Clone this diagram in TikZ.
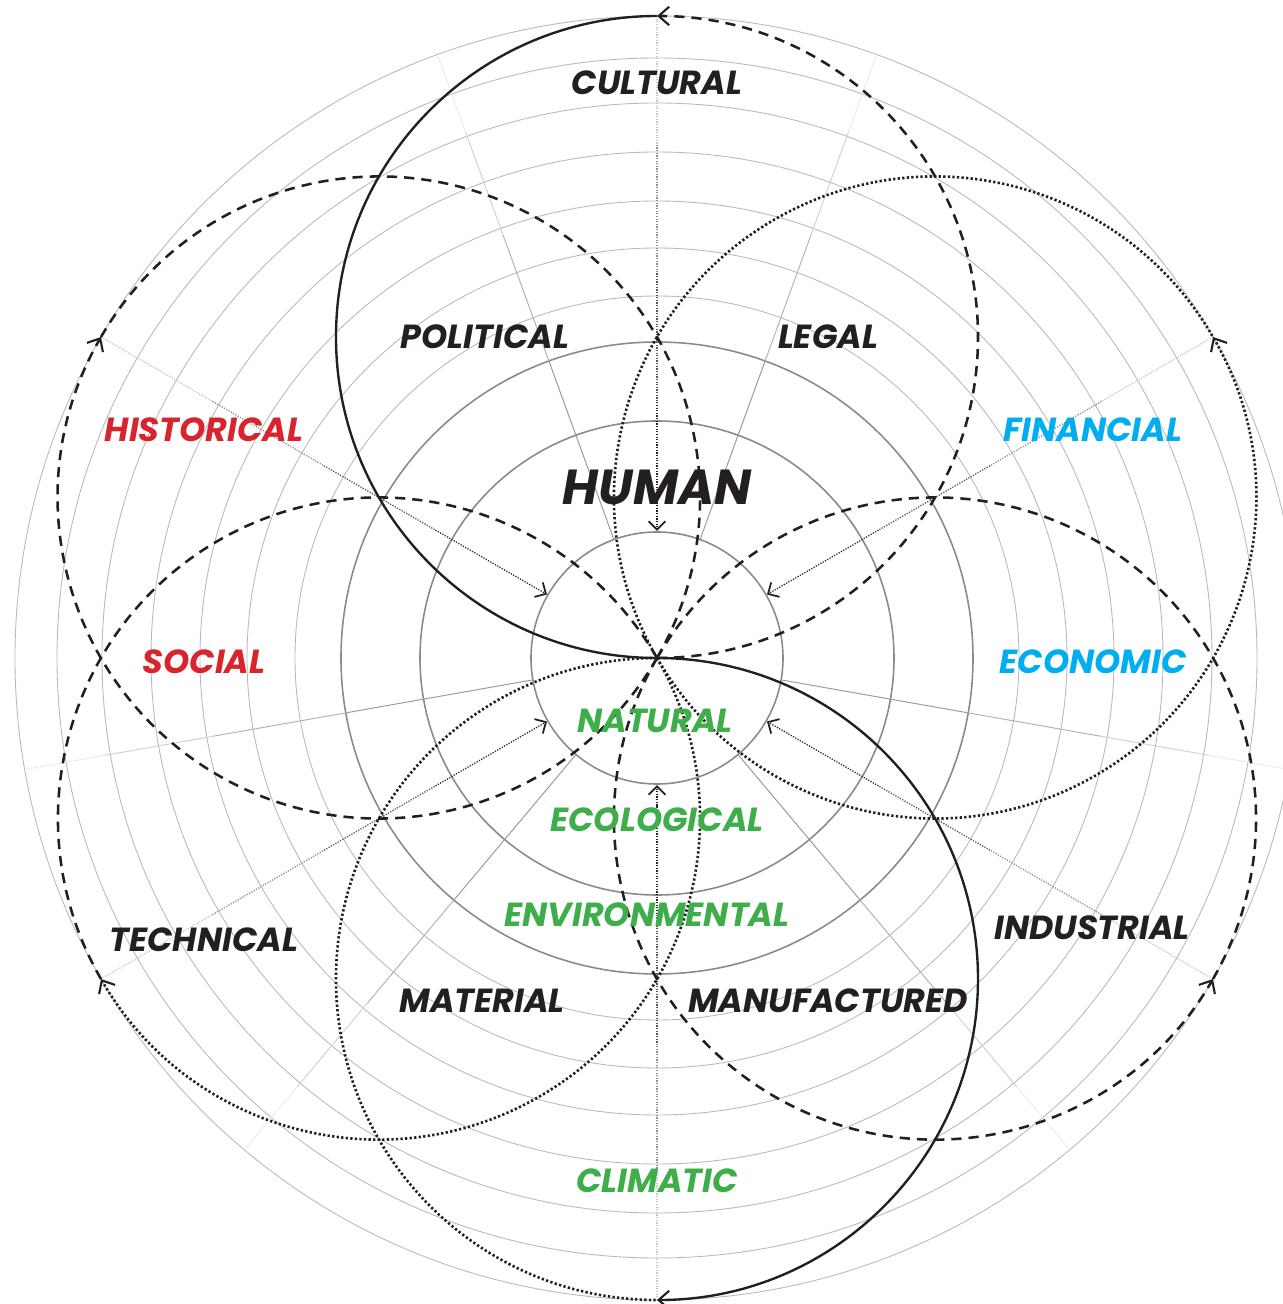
\documentclass[tikz,border=0pt]{standalone}
\usepackage{fontspec}
\newfontfamily\petalfont{Poppins}
\usetikzlibrary{arrows.meta,calc}
\definecolor{PetalInk}{HTML}{231F20}
\definecolor{PetalRed}{HTML}{D7242D}
\definecolor{PetalBlue}{HTML}{00AEEF}
\definecolor{PetalGreen}{HTML}{3DAE49}
\definecolor{RingGray}{HTML}{8A8A8A}
\definecolor{RingLight}{HTML}{B9B9B9}
\tikzset{
  ring major/.style={draw=RingGray, line width=.9pt},
  ring minor/.style={draw=RingLight, line width=.5pt},
  spoke/.style={line width=.55pt},
  feed/.style={line width=.75pt, dash pattern=on .7pt off .8pt},
  feed tip/.style={-{Straight Barb[length=4.8pt,width=9.5pt,line width=1pt]}},
  petal/.style={draw=PetalInk, line width=1.45pt},
  petal solid/.style={petal, line width=1.35pt},
  petal dashed/.style={petal, dash pattern=on 5.8pt off 4pt},
  petal dotted/.style={petal, line width=1.5pt, dash pattern=on 1.3pt off 1.3pt},
  petal tip/.style={-{Straight Barb[length=6pt,width=10.5pt,line width=1.2pt]}},
  tag/.style={font=\petalfont\bfseries\itshape\fontsize{19}{21}\selectfont, inner sep=0pt},
  tag ink/.style={tag, text=PetalInk},
  tag red/.style={tag, text=PetalRed},
  tag blue/.style={tag, text=PetalBlue},
  tag green/.style={tag, text=PetalGreen},
}

\begin{document}
\begin{tikzpicture}[x=0.02cm,y=0.02cm]
  \useasboundingbox (-657,-646) rectangle (626,658);

  % rings
  \foreach \r in {362,410,457,506,555,600,642}
    \draw[ring minor] (0,0) circle[radius=\r];
  \foreach \r in {126,237,316}
    \draw[ring major] (0,0) circle[radius=\r];

  % spokes, fading outward
  \foreach \a in {70,110,190,230,310,350}
    \foreach \ra/\rb/\k in {126/316/40,316/450/30,450/560/18,560/640/8}
      \draw[spoke, draw=black!\k] (\a:\ra) -- (\a:\rb);

  \coordinate (core) at (0,0);
  \foreach \a in {30,90,...,330} {
    \coordinate (rim\a) at (\a:642);
    \coordinate (hub\a) at (\a:127);
  }

  % dotted feeds towards the hub
  \foreach \a in {30,90,...,330}
    \foreach \s/\t/\k in {0/.25/25,.25/.5/50,.5/.75/75,.75/.96/95}
      \draw[feed, draw=PetalInk!\k] ($(rim\a)!\s!(hub\a)$) -- ($(rim\a)!\t!(hub\a)$);
  \foreach \a in {30,90,...,330}
    \draw[feed, draw=PetalInk, feed tip] ($(rim\a)!.96!(hub\a)$) -- (hub\a);

  % petals
  \draw[petal solid] (core) arc[start angle=270, end angle=90, radius=321];
  \draw[petal dashed, petal tip] (core) arc[start angle=270, end angle=450, radius=321];
  \draw[petal dotted] (core) arc[start angle=90, end angle=270, radius=321];
  \draw[petal solid, petal tip] (core) arc[start angle=90, end angle=-90, radius=321];
  \draw[petal dashed] (core) arc[start angle=330, end angle=510, radius=321];
  \draw[petal dashed, petal tip] (core) arc[start angle=330, end angle=150, radius=321];
  \draw[petal dotted, petal tip] (core) arc[start angle=210, end angle=390, radius=321];
  \draw[petal dotted] (core) arc[start angle=210, end angle=30, radius=321];
  \draw[petal dashed] (core) arc[start angle=30, end angle=210, radius=321];
  \draw[petal dotted, petal tip] (core) arc[start angle=30, end angle=-150, radius=321];
  \draw[petal dashed, petal tip] (core) arc[start angle=150, end angle=330, radius=321];
  \draw[petal dashed] (core) arc[start angle=150, end angle=-30, radius=321];

  % labels
  \node[tag ink] (cultural) at (0,575) {CULTURAL};
  \node[tag ink] (political) at (-172,321) {POLITICAL};
  \node[tag ink] (legal) at (171,321) {LEGAL};
  \node[tag red] (historical) at (-453,228) {HISTORICAL};
  \node[tag blue] (financial) at (436,228) {FINANCIAL};
  \node[tag ink, font=\petalfont\bfseries\itshape\fontsize{28}{31}\selectfont] (human) at (0,171) {HUMAN};
  \node[tag red] (social) at (-453,-4) {SOCIAL};
  \node[tag blue] (economic) at (436,-4) {ECONOMIC};
  \node[tag green] (natural) at (-2,-63) {NATURAL};
  \node[tag green] (ecological) at (0,-162) {ECOLOGICAL};
  \node[tag green] (environmental) at (-10,-257) {ENVIRONMENTAL};
  \node[tag ink] (technical) at (-453,-282) {TECHNICAL};
  \node[tag ink] (industrial) at (435,-270) {INDUSTRIAL};
  \node[tag ink] (material) at (-175,-343) {MATERIAL};
  \node[tag ink] (manufactured) at (171,-343) {MANUFACTURED};
  \node[tag green] (climatic) at (0,-523) {CLIMATIC};
\end{tikzpicture}
\end{document}
